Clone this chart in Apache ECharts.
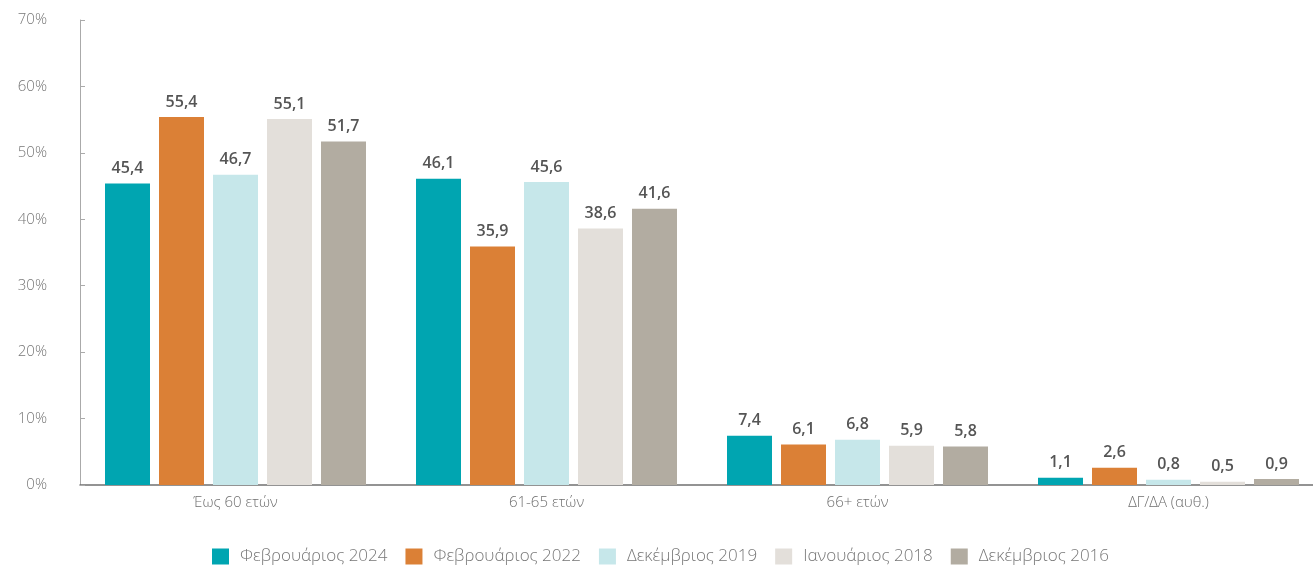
<!DOCTYPE html>
<html><head><meta charset="utf-8">
<script src="https://cdn.jsdelivr.net/npm/echarts@6/dist/echarts.min.js"></script>
<style>html,body{margin:0;padding:0;background:#fff}#c{width:1313px;height:565px}</style>
</head><body><div id="c"></div>
<script>
const categories = ['Έως 60 ετών', '61-65 ετών', '66+ ετών', 'ΔΓ/ΔΑ (αυθ.)'];
const seriesNames = ['Φεβρουάριος 2024', 'Φεβρουάριος 2022', 'Δεκέμβριος 2019', 'Ιανουάριος 2018', 'Δεκέμβριος 2016'];
const feb2024 = [45.4, 46.1, 7.4, 1.1];
const feb2022 = [55.4, 35.9, 6.1, 2.6];
const dec2019 = [46.7, 45.6, 6.8, 0.8];
const jan2018 = [55.1, 38.6, 5.9, 0.5];
const dec2016 = [51.7, 41.6, 5.8, 0.9];
const yTicks = [0, 10, 20, 30, 40, 50, 60, 70];
const colors = ['#00A5B1', '#DB8036', '#C6E7EA', '#E3DFDA', '#B2ACA1'];
const values = [feb2024, feb2022, dec2019, jan2018, dec2016];
const font = '"Open Sans", Lato, sans-serif';
const chart = echarts.init(document.getElementById('c'));
chart.setOption({
  animation: false,
  textStyle: { fontFamily: font },
  color: colors,
  grid: { left: 80, width: 1244, top: 20, height: 465, outerBoundsMode: 'none', containLabel: false },
  legend: {
    left: 212, top: 547, padding: 0, itemWidth: 17, itemHeight: 16, itemGap: 18, icon: 'rect',
    textStyle: { color: '#777', fontSize: 17, lineHeight: 19, fontWeight: 300, fontFamily: font, padding: [0, 0, 0, 6] },
    data: seriesNames
  },
  xAxis: {
    type: 'category', data: categories,
    axisLine: { lineStyle: { color: '#707070', width: 1.5 } },
    axisTick: { show: false },
    axisLabel: { color: '#6f6f6f', fontSize: 15, fontWeight: 300, margin: 10 }
  },
  yAxis: {
    type: 'value', min: yTicks[0], max: yTicks[yTicks.length - 1], interval: 10,
    axisLine: { show: true, lineStyle: { color: '#aaa' } },
    axisTick: { show: true, inside: true, length: 5, lineStyle: { color: '#aaa' } },
    splitLine: { show: false },
    axisLabel: { color: '#777', fontSize: 15, fontWeight: 300, margin: 33, formatter: v => v + '%' }
  },
  series: seriesNames.map((n, i) => ({
    name: n, type: 'bar', data: values[i], barWidth: 45, barGap: '20%',
    label: {
      show: true, position: 'top', distance: 7, color: '#555', fontSize: 16, fontWeight: 600,
      formatter: p => p.value.toFixed(1).replace('.', ',')
    }
  }))
});
</script></body></html>
